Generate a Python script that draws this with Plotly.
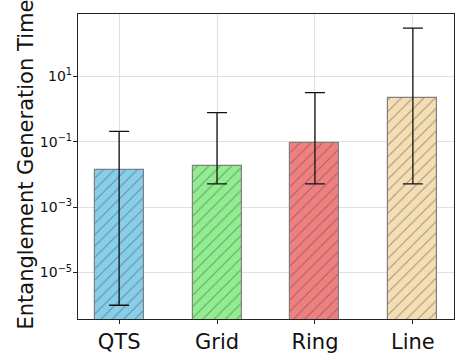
import plotly.graph_objects as go

# Mean entanglement generation time per topology, with min/max spread
topologies = ["QTS", "Grid", "Ring", "Line"]
mean_time = [0.0139, 0.0176, 0.091, 2.08]
upper_time = [0.206, 0.77, 3.16, 294.0]
lower_time = [1.0e-6, 0.0051, 0.0051, 0.0051]
bar_colors = ["#87CEEB", "#90EE90", "#F08080", "#F5DEB3"]

ytick_vals = [1e-5, 1e-3, 1e-1, 1e1]
ytick_text = ["10<sup>−5</sup>", "10<sup>−3</sup>", "10<sup>−1</sup>", "10<sup>1</sup>"]
y_title = "Entanglement Generation Time"

err_plus = [u - m for u, m in zip(upper_time, mean_time)]
err_minus = [m - l for m, l in zip(mean_time, lower_time)]

fig = go.Figure(
    go.Bar(
        x=list(range(len(topologies))),
        y=mean_time,
        width=0.5,
        marker=dict(
            color=bar_colors,
            line=dict(color="#808080", width=1.2),
            pattern=dict(shape="/", fgcolor="#808080", size=8, solidity=0.12,
                         fillmode="overlay"),
        ),
        error_y=dict(type="data", symmetric=False, array=err_plus,
                     arrayminus=err_minus, color="#111111", thickness=1.3,
                     width=10),
    )
)

fig.update_layout(
    width=466, height=354,
    margin=dict(l=78, r=12, t=14, b=35),
    paper_bgcolor="white", plot_bgcolor="white",
    font=dict(family="DejaVu Sans", color="#111111"),
    showlegend=False,
    bargap=0,
)
fig.update_xaxes(
    range=[-0.42, 3.42],
    tickvals=list(range(len(topologies))), ticktext=topologies,
    tickfont=dict(size=21),
    showgrid=True, gridcolor="#e0e0e0", gridwidth=1,
    showline=True, linecolor="#222222", linewidth=1.2, mirror=True,
    ticks="outside", ticklen=4, tickcolor="#222222",
    zeroline=False, automargin=False,
)
fig.update_yaxes(
    type="log", range=[-6.42, 2.9],
    tickvals=ytick_vals, ticktext=ytick_text,
    tickfont=dict(size=14),
    ticklabelstandoff=-2,
    showgrid=True, gridcolor="#e0e0e0", gridwidth=1,
    showline=True, linecolor="#222222", linewidth=1.2, mirror=True,
    ticks="outside", ticklen=4, tickcolor="#222222",
    automargin=False,
)

# Vertical axis title placed as a rotated annotation
fig.add_annotation(
    text=y_title, textangle=-90, showarrow=False,
    xref="paper", yref="paper", x=-0.137, y=0.508,
    xanchor="center", yanchor="middle",
    font=dict(size=21),
)

fig.write_html("out.html")
